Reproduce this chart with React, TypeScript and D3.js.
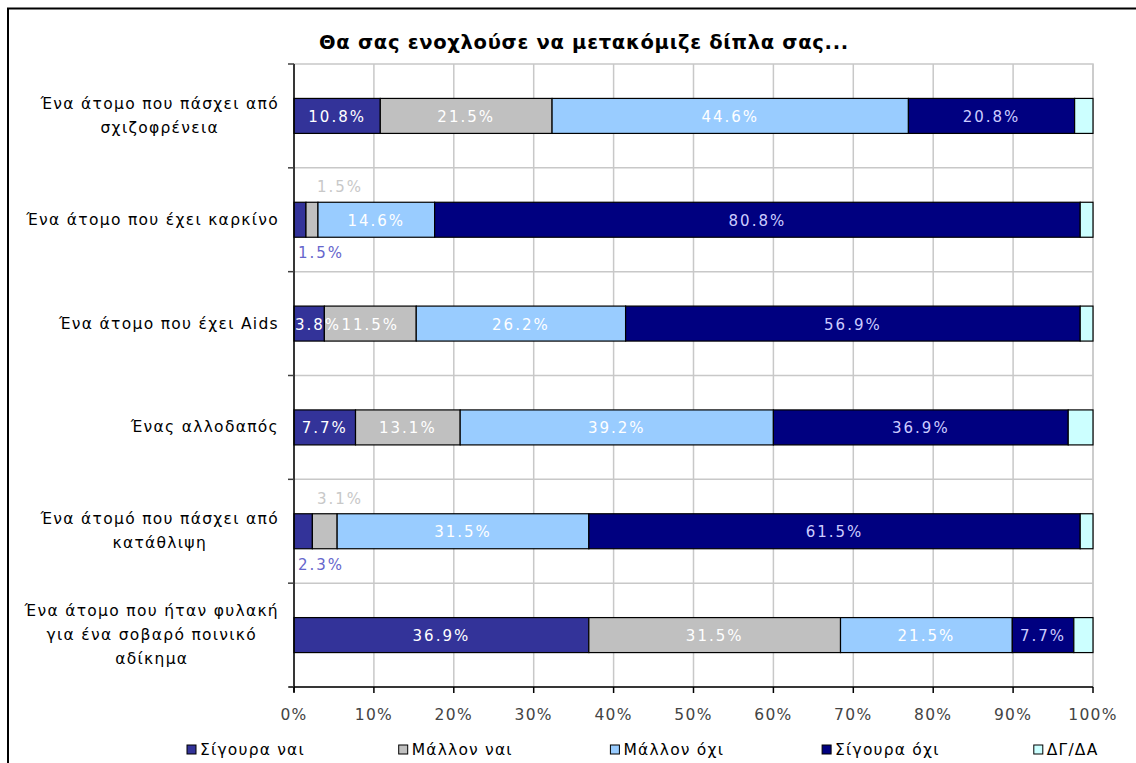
import React, { useEffect, useRef } from "react";
import * as d3 from "d3";

const title = "Θα σας ενοχλούσε να μετακόμιζε δίπλα σας...";
const categories: string[][] = [
  ["Ένα άτομο που πάσχει από", "σχιζοφρένεια"],
  ["Ένα άτομο που έχει καρκίνο"],
  ["Ένα άτομο που έχει Aids"],
  ["Ένας αλλοδαπός"],
  ["Ένα άτομό που πάσχει από", "κατάθλιψη"],
  ["Ένα άτομο που ήταν φυλακή", "για ένα σοβαρό ποινικό", "αδίκημα"],
];
const seriesNames = ["Σίγουρα ναι", "Μάλλον ναι", "Μάλλον όχι", "Σίγουρα όχι", "ΔΓ/ΔΑ"];
const sigouraNai = [10.8, 1.5, 3.8, 7.7, 2.3, 36.9];
const mallonNai = [21.5, 1.5, 11.5, 13.1, 3.1, 31.5];
const mallonOxi = [44.6, 14.6, 26.2, 39.2, 31.5, 21.5];
const sigouraOxi = [20.8, 80.8, 56.9, 36.9, 61.5, 7.7];
const dgda = [2.3, 1.6, 1.6, 3.1, 1.6, 2.4];
const xTicks = [0, 10, 20, 30, 40, 50, 60, 70, 80, 90, 100];

const colors = ["#333399", "#c0c0c0", "#99ccff", "#000080", "#ccffff"];
const labelColors = ["#ffffff", "#ffffff", "#ffffff", "#ccccff", null];
const outsideColors = ["#6666cc", "#c8c8c8"];

export default function App() {
  const ref = useRef<SVGSVGElement | null>(null);
  useEffect(() => {
    const svg = d3.select(ref.current);
    svg.selectAll("*").remove();
    const W = 1136, H = 763;
    const left = 294, right = 1093, top = 64, bottom = 687;
    const font = "'DejaVu Sans', Verdana, sans-serif";

    // frame
    svg.append("rect").attr("x", 8).attr("y", 8.5).attr("width", W + 20).attr("height", H + 20)
      .attr("fill", "#fff").attr("stroke", "#000").attr("stroke-width", 2);

    const x = d3.scaleLinear().domain([0, 100]).range([left, right]);
    const y = d3.scaleBand<number>().domain(d3.range(categories.length)).range([top, bottom])
      .paddingInner(0.663).paddingOuter(0.3315);
    const step = y.step();

    // plot area border
    svg.append("rect").attr("x", left).attr("y", top).attr("width", right - left).attr("height", bottom - top)
      .attr("fill", "none").attr("stroke", "#c8c8c8").attr("stroke-width", 1.5);

    // vertical grid
    svg.append("g").selectAll("line").data(xTicks.slice(1)).join("line")
      .attr("x1", (d) => x(d)).attr("x2", (d) => x(d)).attr("y1", top).attr("y2", bottom)
      .attr("stroke", "#c8c8c8").attr("stroke-width", 1.5);
    // horizontal grid at category boundaries
    const bounds = d3.range(1, categories.length).map((i) => top + i * step);
    svg.append("g").selectAll("line").data(bounds).join("line")
      .attr("x1", left).attr("x2", right).attr("y1", (d) => d).attr("y2", (d) => d)
      .attr("stroke", "#c8c8c8").attr("stroke-width", 1.5);

    // stacked data
    const series = [sigouraNai, mallonNai, mallonOxi, sigouraOxi, dgda];
    const rows = categories.map((_, i) => {
      const o: any = { i };
      series.forEach((s, k) => (o["s" + k] = s[i]));
      return o;
    });
    const keys = series.map((_, k) => "s" + k);
    const stacked = d3.stack<any>().keys(keys)(rows);

    const bars = svg.append("g");
    stacked.forEach((layer, k) => {
      bars.selectAll(null).data(layer).join("rect")
        .attr("x", (d) => x(d[0])).attr("y", (d) => y(d.data.i)!)
        .attr("width", (d) => x(d[1]) - x(d[0])).attr("height", y.bandwidth())
        .attr("fill", colors[k]).attr("stroke", "#000").attr("stroke-width", 1.2);
    });

    // labels
    const lab = svg.append("g").attr("font-family", font).attr("font-size", 15).attr("letter-spacing", 2);
    stacked.forEach((layer, k) => {
      if (!labelColors[k]) return;
      layer.forEach((d) => {
        const v = d[1] - d[0];
        const txt = v.toFixed(1) + "%";
        const yb = y(d.data.i)!;
        if (v < 3.5) {
          if (k === 0) {
            lab.append("text").attr("x", x(0) + 4).attr("y", yb + y.bandwidth() + 16)
              .attr("dominant-baseline", "central").attr("fill", outsideColors[0]).text(txt);
          } else if (k === 1) {
            lab.append("text").attr("x", x(0) + 23).attr("y", yb - 15)
              .attr("dominant-baseline", "central").attr("fill", outsideColors[1]).text(txt);
          }
          return;
        }
        const cx = Math.max((x(d[0]) + x(d[1])) / 2, x(0) + 24);
        lab.append("text").attr("x", cx).attr("y", yb + y.bandwidth() / 2 + 1)
          .attr("text-anchor", "middle").attr("dominant-baseline", "central")
          .attr("fill", labelColors[k]!).text(txt);
      });
    });

    // axes
    svg.append("line").attr("x1", left).attr("x2", left).attr("y1", top).attr("y2", bottom + 5)
      .attr("stroke", "#000").attr("stroke-width", 1.5);
    svg.append("line").attr("x1", left - 5).attr("x2", right).attr("y1", bottom).attr("y2", bottom)
      .attr("stroke", "#000").attr("stroke-width", 1.5);
    svg.append("g").selectAll("line").data(d3.range(0, categories.length + 1).map((i) => top + i * step)).join("line")
      .attr("x1", left - 6).attr("x2", left).attr("y1", (d) => d).attr("y2", (d) => d)
      .attr("stroke", "#404040").attr("stroke-width", 1.5);
    svg.append("g").selectAll("line").data(xTicks).join("line")
      .attr("x1", (d) => x(d)).attr("x2", (d) => x(d)).attr("y1", bottom).attr("y2", bottom + 6)
      .attr("stroke", "#000").attr("stroke-width", 1.5);
    svg.append("g").attr("font-family", font).attr("font-size", 15.5).attr("letter-spacing", 1.3)
      .attr("fill", "#444").selectAll("text").data(xTicks).join("text")
      .attr("x", (d) => x(d)).attr("y", 715).attr("text-anchor", "middle").attr("dominant-baseline", "central")
      .text((d) => d + "%");

    // category labels
    const catG = svg.append("g").attr("font-family", font).attr("font-size", 15.5).attr("letter-spacing", 1.3).attr("fill", "#000");
    const lineH = 24;
    categories.forEach((lines, i) => {
      const cy = y(i)! + y.bandwidth() / 2;
      const g = catG.append("g");
      const texts = lines.map((l, j) =>
        g.append("text").attr("y", cy + (j - (lines.length - 1) / 2) * lineH)
          .attr("dominant-baseline", "central").attr("text-anchor", "middle").text(l)
      );
      const widths = texts.map((t) => (t.node() as SVGTextElement).getComputedTextLength());
      const maxW = Math.max(...widths);
      texts.forEach((t) => t.attr("x", 279 - maxW / 2));
    });

    // title
    svg.append("text").attr("x", 584).attr("y", 42).attr("text-anchor", "middle")
      .attr("dominant-baseline", "central").attr("font-family", font).attr("font-weight", "bold")
      .attr("font-size", 19.5).attr("letter-spacing", 0.7).text(title);

    // legend
    const leg = svg.append("g").attr("font-family", font).attr("font-size", 15.5).attr("letter-spacing", 1.2);
    seriesNames.forEach((n, k) => {
      const lx = 187 + k * 211.7;
      leg.append("rect").attr("x", lx).attr("y", 745).attr("width", 9).attr("height", 9)
        .attr("fill", colors[k]).attr("stroke", "#000").attr("stroke-width", 1);
      leg.append("text").attr("x", lx + 13).attr("y", 750).attr("dominant-baseline", "central").text(n);
    });
  }, []);
  return (
    <svg ref={ref} width={1136} height={763}
      style={{ position: "absolute", left: 0, top: 0, display: "block", background: "#fff" }} />
  );
}
